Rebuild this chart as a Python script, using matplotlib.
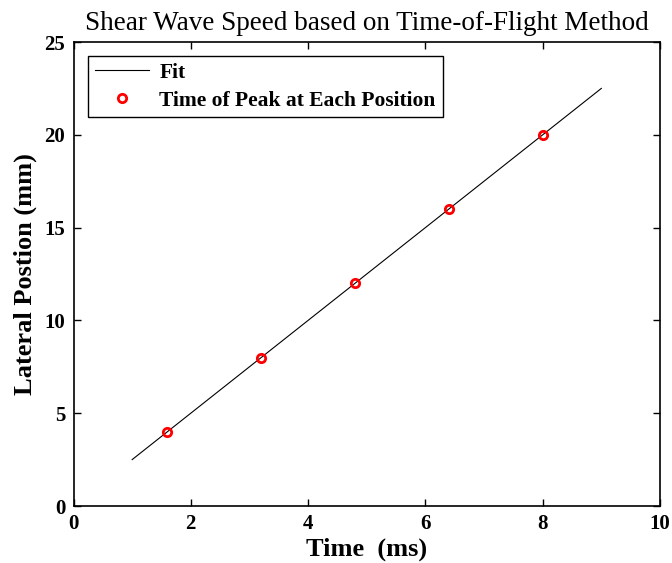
import numpy as np
import matplotlib
matplotlib.use('Agg')
import matplotlib.pyplot as plt

# peak times (ms) and lateral positions (mm)
peak_time = [1.6, 3.2, 4.8, 6.4, 8.0]
position = [4, 8, 12, 16, 20]
fit_time = [1, 9]
fit_pos = [2.5, 22.5]

plt.rcParams['font.family'] = ['Liberation Serif', 'DejaVu Serif']

fig = plt.figure(figsize=(6.72, 5.63), dpi=100)
ax = fig.add_axes([73.5 / 672, 57 / 563, 586.5 / 672, 464 / 563])

ax.plot(fit_time, fit_pos, color='black', linewidth=0.8, label='Fit')
ax.plot(peak_time, position, 'o', markerfacecolor='none', markeredgecolor='red',
        markeredgewidth=2, markersize=6, label='Time of Peak at Each Position')

ax.set_xlim(0, 10)
ax.set_ylim(0, 25)
ax.set_xticks([0, 2, 4, 6, 8, 10])
ax.set_yticks([0, 5, 10, 15, 20, 25])
ax.tick_params(direction='in', top=True, right=True, labelsize=15, length=5, width=1)
ax.tick_params(axis='x', pad=6)
ax.tick_params(axis='y', pad=6)
for lbl in ax.get_xticklabels() + ax.get_yticklabels():
    lbl.set_fontweight('bold')
for sp in ax.spines.values():
    sp.set_linewidth(1.2)

ax.set_xlabel('Time  (ms)', fontsize=19, fontweight='bold', labelpad=2)
ax.set_ylabel('Lateral Postion (mm)', fontsize=19, fontweight='bold', labelpad=5)
ax.set_title('Shear Wave Speed based on Time-of-Flight Method', fontsize=19.5, pad=9)

leg = ax.legend(loc='upper left', bbox_to_anchor=(14.5 / 586.5, 1 - 14 / 464), fancybox=False,
                edgecolor='black', framealpha=1, borderaxespad=0,
                prop={'weight': 'bold', 'size': 15.5}, handlelength=2.5,
                handletextpad=0.5, labelspacing=0.35, borderpad=0.32)
leg.get_frame().set_linewidth(1.0)
leg._legend_box.sep = 4

fig.savefig('out.png', dpi=100)
